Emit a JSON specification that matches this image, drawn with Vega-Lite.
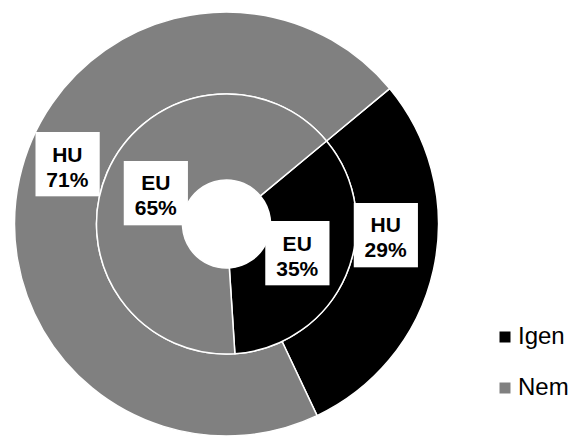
{
  "$schema": "https://vega.github.io/schema/vega-lite/v6.json",
  "width": 453,
  "height": 434,
  "padding": {"left": 0, "top": 7, "right": 0, "bottom": 0},
  "background": "white",
  "data": {
    "values": [
      {"ring": "HU", "valasz": "Igen", "value": 29, "label": "HU\n29%"},
      {"ring": "HU", "valasz": "Nem", "value": 71, "label": "HU\n71%"},
      {"ring": "EU", "valasz": "Igen", "value": 35, "label": "EU\n35%"},
      {"ring": "EU", "valasz": "Nem", "value": 65, "label": "EU\n65%"}
    ]
  },
  "encoding": {
    "theta": {"field": "value", "type": "quantitative", "stack": true, "scale": {"domain": [0, 100], "range": [0.878, 7.161]}},
    "order": {"field": "valasz", "sort": "ascending"}
  },
  "layer": [
    {
      "transform": [{"filter": "datum.ring === 'HU'"}],
      "mark": {"type": "arc", "innerRadius": 130, "outerRadius": 212, "stroke": "white", "strokeWidth": 1.5},
      "encoding": {
        "color": {"field": "valasz", "type": "nominal", "scale": {"domain": ["Igen", "Nem"], "range": ["#000000", "#808080"]},
          "legend": {"title": null, "orient": "none", "legendX": 493, "legendY": 318, "symbolType": "square", "symbolSize": 121, "symbolStrokeWidth": 0, "labelFontSize": 24, "labelFont": "Liberation Sans", "labelColor": "black", "labelOffset": 1, "rowPadding": 27}}
      }
    },
    {
      "transform": [{"filter": "datum.ring === 'EU'"}],
      "mark": {"type": "arc", "innerRadius": 44, "outerRadius": 130, "stroke": "white", "strokeWidth": 1.5},
      "encoding": {
        "color": {"field": "valasz", "type": "nominal"}
      }
    },
    {
      "transform": [{"filter": "datum.ring === 'HU'"}],
      "mark": {"type": "text", "radius": 163, "dy": -27.5, "text": "■", "font": "DejaVu Sans", "fontSize": 84, "color": "white", "baseline": "middle", "align": "center"},
      "encoding": {}
    },
    {
      "transform": [{"filter": "datum.ring === 'EU'"}],
      "mark": {"type": "text", "radius": 77, "dy": -4, "text": "■", "font": "DejaVu Sans", "fontSize": 84, "color": "white", "baseline": "middle", "align": "center"},
      "encoding": {}
    },
    {
      "transform": [{"filter": "datum.ring === 'HU'"}],
      "mark": {"type": "text", "radius": 163, "dy": -33, "font": "Liberation Sans", "fontWeight": "bold", "fontSize": 21, "lineHeight": 25, "lineBreak": "\n", "color": "black", "baseline": "middle", "align": "center"},
      "encoding": {"text": {"field": "label"}}
    },
    {
      "transform": [{"filter": "datum.ring === 'EU'"}],
      "mark": {"type": "text", "radius": 77, "dy": -9.5, "font": "Liberation Sans", "fontWeight": "bold", "fontSize": 21, "lineHeight": 25, "lineBreak": "\n", "color": "black", "baseline": "middle", "align": "center"},
      "encoding": {"text": {"field": "label"}}
    }
  ],
  "config": {"view": {"stroke": null}}
}
